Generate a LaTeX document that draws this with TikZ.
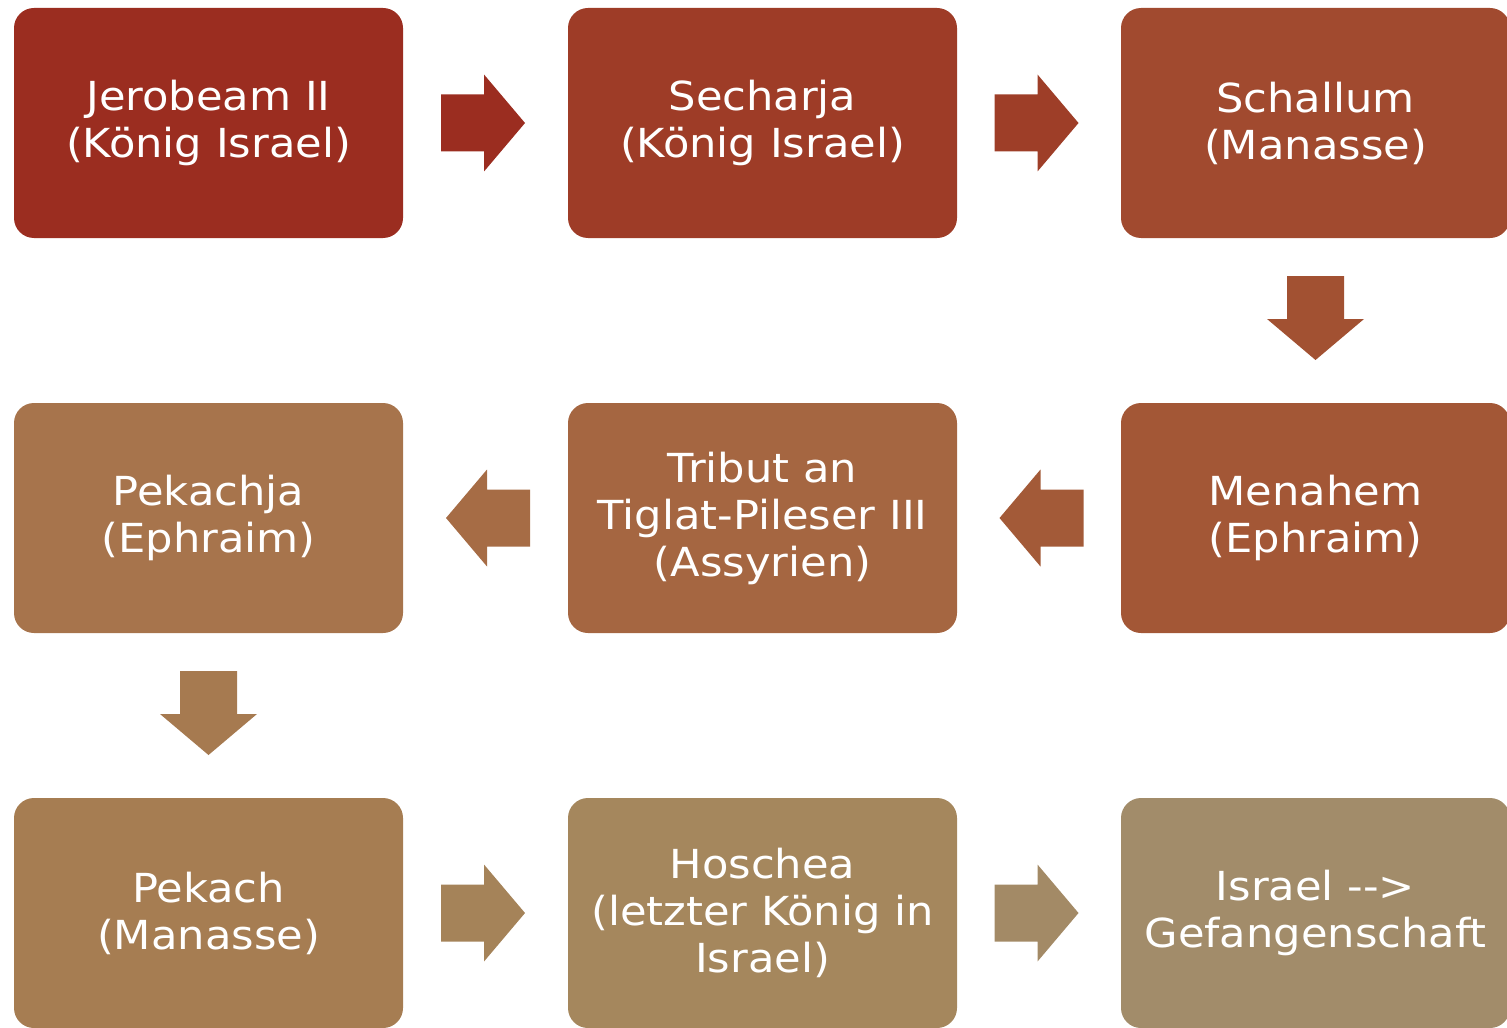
\documentclass[tikz,border=0pt]{standalone}
\usepackage{fontspec}
\setmainfont{DejaVu Sans}[FakeStretch=1.08]
\usetikzlibrary{calc}

\definecolor{jeroC}{HTML}{9B2D20}
\definecolor{secC}{HTML}{9E3C27}
\definecolor{schC}{HTML}{A14A2F}
\definecolor{menC}{HTML}{A35736}
\definecolor{tribC}{HTML}{A56641}
\definecolor{pkjC}{HTML}{A7744C}
\definecolor{pekC}{HTML}{A67D52}
\definecolor{hosC}{HTML}{A5875D}
\definecolor{isrC}{HTML}{A28C6A}

\tikzset{
  stage/.style={rectangle, rounded corners=10pt, minimum width=194.5pt,
    minimum height=115pt, inner sep=0pt, text=white, align=center,
    font=\fontsize{20}{23.5}\selectfont},
  flow/.pic={\fill (-44.5,-28.5) -- (-1.5,-28.5) -- (-1.5,-48.5) -- (39.5,0)
    -- (-1.5,48.5) -- (-1.5,28.5) -- (-44.5,28.5) -- cycle;}
}

\begin{document}
\begin{tikzpicture}[x=0.5pt, y=-0.5pt]
        \useasboundingbox (0,0) rectangle (1507,1027);
        % row 1
        \node[stage, fill=jeroC] (jero) at (208.5,123) {Jerobeam II\\(König Israel)};
        \node[stage, fill=secC] (sech) at (762.5,123) {Secharja\\(König Israel)};
        \node[stage, fill=schC] (schal) at (1315.5,123) {Schallum\\(Manasse)};
        % row 2
        \node[stage, fill=menC] (mena) at (1315.5,518) {Menahem\\(Ephraim)};
        \node[stage, fill=tribC] (trib) at (762.5,518) {Tribut an\\Tiglat-Pileser III\\(Assyrien)};
        \node[stage, fill=pkjC] (pekj) at (208.5,518) {Pekachja\\(Ephraim)};
        % row 3
        \node[stage, fill=pekC] (pek) at (208.5,913) {Pekach\\(Manasse)};
        \node[stage, fill=hosC] (hos) at (762.5,913) {Hoschea\\(letzter König in\\Israel)};
        \node[stage, fill=isrC] (isr) at (1315.5,913) {Israel {-}{-}>\\Gefangenschaft};
        % arrows
        \pic[color=jeroC] at ($(jero.east)!0.5!(sech.west)$) {flow};
        \pic[color=secC!85!schC] at ($(sech.east)!0.5!(schal.west)$) {flow};
        \pic[color=schC!50!menC, rotate=-90] at ($(schal.south)!0.5!(mena.north)$) {flow};
        \pic[color=menC!80!tribC, rotate=180] at ($(mena.west)!0.5!(trib.east)$) {flow};
        \pic[color=tribC!60!pkjC, rotate=180] at ($(trib.west)!0.5!(pekj.east)$) {flow};
        \pic[color=pkjC!30!pekC, rotate=-90] at ($(pekj.south)!0.5!(pek.north)$) {flow};
        \pic[color=pekC!40!hosC] at ($(pek.east)!0.5!(hos.west)$) {flow};
        \pic[color=hosC!30!isrC] at ($(hos.east)!0.5!(isr.west)$) {flow};
\end{tikzpicture}
\end{document}
